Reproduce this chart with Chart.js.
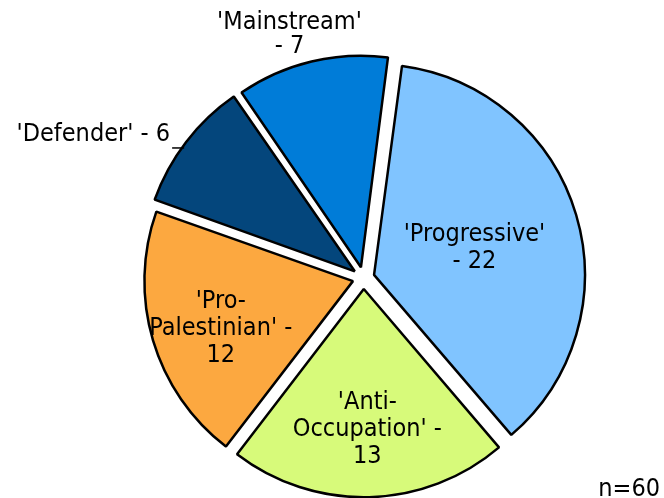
<!DOCTYPE html>
<html>
<head>
<meta charset="utf-8">
<script src="https://cdn.jsdelivr.net/npm/chart.js@4.4.1/dist/chart.umd.min.js"></script>
<style>
  html, body { margin: 0; padding: 0; background: #fff; }
  #wrap { width: 664px; height: 498px; }
</style>
</head>
<body>
<div id="wrap"><canvas id="pie" width="664" height="498"></canvas></div>
<script>
// data
const categories = ['Progressive', 'Anti-Occupation', 'Pro-Palestinian', 'Defender', 'Mainstream'];
const counts = [22, 13, 12, 6, 7];
const sliceColors = ['#80C4FF', '#D7FA7A', '#FCA840', '#04467C', '#007CD8'];
// wrapped label text as in the picture
const labelLines = [
  ["'Progressive'", '- 22'],
  ["'Anti-", "Occupation' -", '13'],
  ["'Pro-", "Palestinian' -", '12'],
  ["'Defender' - 6"],
  ["'Mainstream'", '- 7'],
];
const sampleNote = 'n=60';

const FONT = '25px "DejaVu Sans Condensed", "DejaVu Sans", sans-serif';
const LINE_H = 27;
// where each label sits: inside at a fraction of the radius, or outside
const labelPlace = [
  { inside: 0.49, dy: 3 },
  { inside: 0.65, dy: 5 },
  { inside: 0.66, dy: 8 },
  { outside: 'leader' },
  { outside: 'above' },
];

// how far chart.js actually moves an exploded arc
function arcShift(arc) {
  const off = (arc.options.offset || 0) / 4;
  const circ = arc.endAngle - arc.startAngle;
  const fix = 1 - Math.sin(Math.min(Math.PI, circ));
  return off + off * fix;
}

const pieLabels = {
  id: 'pieLabels',
  afterDatasetsDraw(chart) {
    const ctx = chart.ctx;
    const arcs = chart.getDatasetMeta(0).data;
    ctx.save();
    ctx.font = FONT;
    ctx.fillStyle = '#000';
    ctx.textBaseline = 'middle';
    arcs.forEach((arc, i) => {
      const mid = (arc.startAngle + arc.endAngle) / 2;
      const t = arcShift(arc);
      const cx = arc.x + Math.cos(mid) * t;
      const cy = arc.y + Math.sin(mid) * t;
      const r = arc.outerRadius;
      const lines = labelLines[i];
      const place = labelPlace[i];
      if (place.inside) {
        const px = cx + Math.cos(mid) * r * place.inside;
        const py = cy + Math.sin(mid) * r * place.inside + place.dy;
        ctx.textAlign = 'center';
        lines.forEach((ln, k) => {
          ctx.fillText(ln, px, py + (k - (lines.length - 1) / 2) * LINE_H);
        });
      } else if (place.outside === 'above') {
        const ex = cx + Math.cos(mid) * r;
        const ey = cy + Math.sin(mid) * r;
        const px = ex - 22;
        const py = ey - 27;
        ctx.textAlign = 'center';
        lines.forEach((ln, k) => {
          ctx.fillText(ln, px, py + (k - (lines.length - 1) / 2) * 24);
        });
      } else {
        const ex = cx + Math.cos(mid) * (r - 5);
        const ey = cy + Math.sin(mid) * (r - 5) + 3;
        ctx.strokeStyle = '#000';
        ctx.lineWidth = 1.5;
        ctx.beginPath();
        ctx.moveTo(ex - 6, ey);
        ctx.lineTo(ex - 18, ey);
        ctx.stroke();
        ctx.textAlign = 'right';
        ctx.fillText(lines[0], ex - 20, ey - 13);
      }
    });
    ctx.textAlign = 'right';
    ctx.textBaseline = 'alphabetic';
    ctx.fillText(sampleNote, 660, 496);
    ctx.restore();
  }
};

new Chart(document.getElementById('pie').getContext('2d'), {
  type: 'pie',
  data: {
    labels: categories,
    datasets: [{
      data: counts,
      backgroundColor: sliceColors,
      borderColor: '#000',
      borderWidth: 2.5,
      offset: 44,
    }],
  },
  options: {
    responsive: false,
    animation: false,
    devicePixelRatio: 1,
    rotation: 7.5,
    radius: 208,
    layout: { padding: { left: 100, right: 37, top: 60, bottom: 2 } },
    plugins: {
      legend: { display: false },
      tooltip: { enabled: false },
    },
  },
  plugins: [pieLabels],
});
</script>
</body>
</html>
